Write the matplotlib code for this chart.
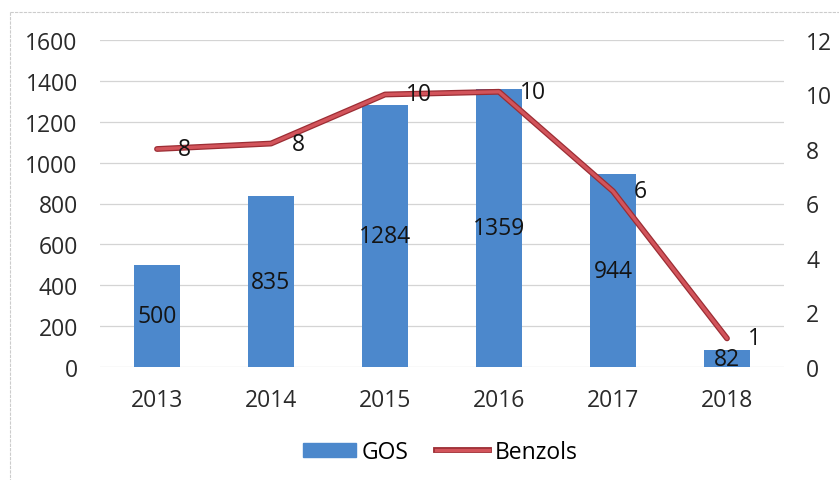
import matplotlib
matplotlib.use('Agg')
import matplotlib.pyplot as plt
import matplotlib.patheffects as pe
from matplotlib.lines import Line2D
import numpy as np

years = ['2013', '2014', '2015', '2016', '2017', '2018']
gos = [500, 835, 1284, 1359, 944, 82]
benzols = [8.0, 8.2, 10.0, 10.1, 6.45, 1.05]

plt.rcParams['font.family'] = ['Open Sans', 'DejaVu Sans']
fs = 16.5

W, H = 839, 481
fig = plt.figure(figsize=(W / 100, H / 100), dpi=100)
ax = fig.add_axes([100 / W, 1 - 368 / H, 684 / W, 327 / H])
ax2 = ax.twinx()

x = np.arange(len(years))
bar_color = '#4c88cc'
ax.bar(x, gos, width=0.4, color=bar_color, label='GOS', zorder=2)
for xi, v in zip(x, gos):
    ax.text(xi, v / 2, str(v), ha='center', va='center', color='#141414', fontsize=fs, zorder=3)

ax.set_xlim(-0.5, len(years) - 0.5)
ax.set_ylim(0, 1600)
ax.set_yticks(range(0, 1601, 200))
ax.set_xticks(x)
ax.set_xticklabels(years)
ax.grid(axis='y', color='#d4d4d4', linewidth=0.9, zorder=0)
ax.set_axisbelow(True)
ax.tick_params(axis='both', length=0, colors='#2a2a2a', labelsize=fs)
ax.tick_params(axis='x', pad=15)
ax.tick_params(axis='y', pad=16)

line_color = '#d2545b'
effects = [pe.Stroke(linewidth=4.2, foreground='#9c2d34'), pe.Normal()]
ax2.plot(x, benzols, color=line_color, linewidth=2.4, label='Benzols',
         path_effects=effects, zorder=2, solid_capstyle='round', solid_joinstyle='round')
for xi, v in zip(x, benzols):
    ax2.annotate(f'{v:.0f}', (xi, v), xytext=(15, 0), textcoords='offset points',
                 ha='left', va='center', fontsize=fs, color='#141414', zorder=5)
ax2.set_ylim(0, 12)
ax2.set_yticks(range(0, 13, 2))
ax2.tick_params(axis='y', length=0, colors='#2a2a2a', labelsize=fs, pad=16)

for a in (ax, ax2):
    for s in a.spines.values():
        s.set_visible(False)

handles = [plt.Rectangle((0, 0), 1, 1, color=bar_color),
           Line2D([], [], color=line_color, linewidth=2.4, path_effects=effects)]
fig.legend(handles, ['GOS', 'Benzols'], loc='center', bbox_to_anchor=(0.525, 1 - 453 / H),
           ncol=2, frameon=False, handlelength=2.3, handleheight=0.6,
           handletextpad=0.25, columnspacing=1.2, fontsize=fs)

# light border of the chart area
fig.add_artist(Line2D([10 / W, 1], [1 - 13 / H, 1 - 13 / H], color='#cccccc', linewidth=0.8, linestyle=(0, (3, 1))))
fig.add_artist(Line2D([10 / W, 10 / W], [1 - 13 / H, 0], color='#cccccc', linewidth=0.8, linestyle=(0, (3, 1))))

fig.savefig('out.png', dpi=100)
